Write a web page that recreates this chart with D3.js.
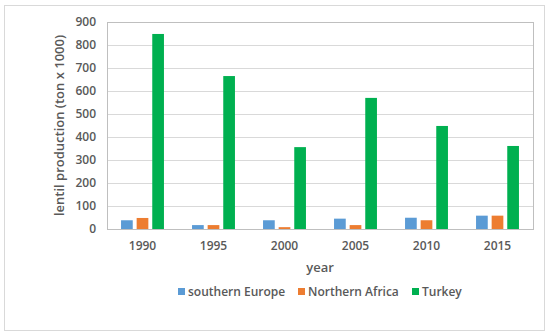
<!DOCTYPE html>
<html>
<head>
<meta charset="utf-8">
<script src="https://cdn.jsdelivr.net/npm/d3@7"></script>
<style>
  body { margin: 0; background: #fff; }
  text { font-family: "Open Sans", "Noto Sans", sans-serif; fill: #595959; }
</style>
</head>
<body>
<script>
const years = ["1990", "1995", "2000", "2005", "2010", "2015"];
const seriesNames = ["southern Europe", "Northern Africa", "Turkey"];
const southernEurope = [38, 17, 38, 45, 49, 58];
const northernAfrica = [48, 17, 8, 17, 38, 58];
const turkey = [848, 665, 356, 570, 448, 361];
const yTicks = [0, 100, 200, 300, 400, 500, 600, 700, 800, 900];
const colors = ["#5B9BD5", "#ED7D31", "#00B050"];

const seriesValues = [southernEurope, northernAfrica, turkey];
const W = 550, H = 336;
const margin = {left: 107, right: 17, top: 22, bottom: 107};

const svg = d3.select("body").append("svg")
    .attr("width", W).attr("height", H);

// outer chart frame
svg.append("rect")
    .attr("x", 4.5).attr("y", 5.5)
    .attr("width", 540).attr("height", 325)
    .attr("fill", "#fff").attr("stroke", "#d9d9d9");

const x = d3.scaleBand().domain(years)
    .range([margin.left, W - margin.right]);
const xs = d3.scaleBand().domain(d3.range(3))
    .range([0, x.bandwidth()]).paddingInner(0.25).paddingOuter(0.9);
const y = d3.scaleLinear().domain([0, 900])
    .range([H - margin.bottom, margin.top]);

// gridlines
svg.append("g")
  .selectAll("line").data(yTicks.slice(1)).join("line")
    .attr("x1", margin.left).attr("x2", W - margin.right)
    .attr("y1", d => y(d) + 0.5).attr("y2", d => y(d) + 0.5)
    .attr("stroke", "#d9d9d9");

// plot area border
svg.append("rect")
    .attr("x", margin.left + 0.5).attr("y", y(900) + 0.5)
    .attr("width", W - margin.right - margin.left)
    .attr("height", y(0) - y(900))
    .attr("fill", "none").attr("stroke", "#bfbfbf");

// bars
svg.append("g")
  .selectAll("g").data(seriesValues).join("g")
    .attr("fill", (d, i) => colors[i])
  .selectAll("rect").data((vals, si) => vals.map((v, j) => ({v, j, si}))).join("rect")
    .attr("x", d => x(years[d.j]) + xs(d.si))
    .attr("width", xs.bandwidth())
    .attr("y", d => y(d.v))
    .attr("height", d => y(0) - y(d.v));

// y axis
const yAxis = svg.append("g")
    .attr("transform", `translate(${margin.left},0)`)
    .call(d3.axisLeft(y).tickValues(yTicks).tickSize(0).tickPadding(11));
yAxis.select(".domain").remove();
yAxis.selectAll("text").style("font-size", "12px").style("font-weight", 600).attr("fill", "#595959");

// x axis
const xAxis = svg.append("g")
    .attr("transform", `translate(0,${y(0)})`)
    .call(d3.axisBottom(x).tickSize(0).tickPadding(12));
xAxis.select(".domain").attr("stroke", "#bfbfbf");
xAxis.selectAll("text").style("font-size", "12px").style("font-weight", 600).attr("fill", "#595959");

// axis titles
svg.append("text")
    .attr("x", (margin.left + W - margin.right) / 2).attr("y", 272)
    .attr("text-anchor", "middle")
    .style("font-size", "13px").style("font-weight", 600)
    .text("year");

svg.append("text")
    .attr("transform", `translate(64,${(y(0) + y(900)) / 2}) rotate(-90)`)
    .attr("text-anchor", "middle")
    .style("font-size", "13px").style("font-weight", 600)
    .text("lentil production (ton x 1000)");

// legend
const legendX = [178, 298, 412];
const legend = svg.append("g")
  .selectAll("g").data(seriesNames).join("g")
    .attr("transform", (d, i) => `translate(${legendX[i]},292)`);
legend.append("rect")
    .attr("x", 0).attr("y", -4).attr("width", 7).attr("height", 7)
    .attr("fill", (d, i) => colors[i]);
legend.append("text")
    .attr("x", 10).attr("y", 4)
    .style("font-size", "12px").style("font-weight", 600)
    .text(d => d);
</script>
</body>
</html>
